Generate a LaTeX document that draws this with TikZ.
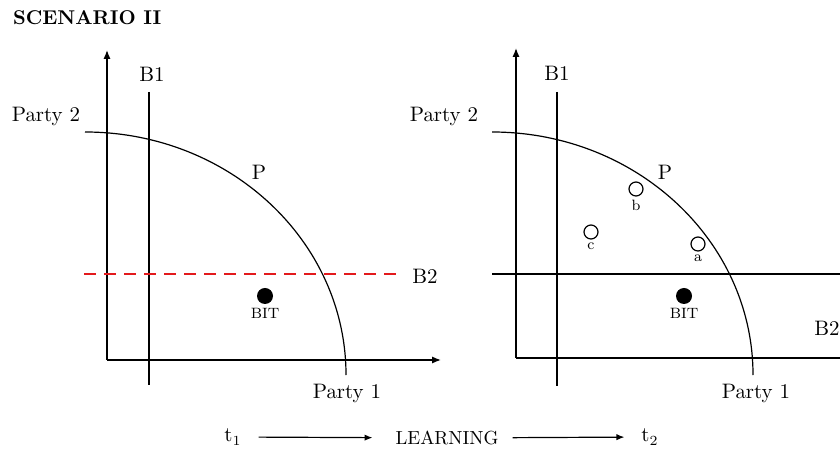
\documentclass[tikz,border=0pt]{standalone}
\usetikzlibrary{arrows.meta,positioning}
\definecolor{DashRed}{HTML}{E3191C}

\begin{document}
\begin{tikzpicture}[x=0.5bp,y=-0.5bp,
  font=\fontsize{10.5}{12}\selectfont,
  axis/.style={line width=0.7pt,-{Latex[length=4.5pt,width=3.6pt]}},
  line/.style={line width=0.7pt},
  front/.style={line width=0.6pt},
  cut/.style={line width=1.3pt,DashRed,dash pattern=on 6bp off 4bp},
  small/.style={font=\fontsize{7.5}{9}\selectfont,inner sep=1pt},
  bit/.style={circle,fill=black,minimum size=8bp,inner sep=0pt},
  alt/.style={circle,draw,line width=0.6pt,minimum size=7bp,inner sep=0pt},
  ar/.style={-{Latex[length=4pt,width=3.2pt]},line width=0.6pt}]
\useasboundingbox (0,0) rectangle (840,451);
\node[anchor=west,font=\fontsize{10}{12}\selectfont\bfseries] (title) at (6,18) {SCENARIO II};

% left panel: t1
\draw[axis] (107,360) -- (107,50);
\draw[axis] (107,360) -- (441,360);
\draw[line] (149,92) -- (149,385);
\node (b1l) at (152,74) {B1};
\draw[front] (85,132) arc[start angle=90,end angle=0,x radius=130.5bp,y radius=121.5bp];
\node (p2l) at (46,117) {Party 2};
\node (p1l) at (347,394) {Party 1};
\node (pl) at (259,172) {P};
\draw[cut] (84,274) -- (403,274);
\node (b2l) at (425,276) {B2};
\node[bit] (bitl) at (265,296) {};
\node[small,below=1pt of bitl] (bitll) {BIT};

% right panel: t2
\draw[axis] (516,358) -- (516,48);
\draw[line] (516,358) -- (840,358);
\draw[line] (557,92) -- (557,386);
\node (b1r) at (557,73) {B1};
\draw[front] (492,132) arc[start angle=90,end angle=0,x radius=130.5bp,y radius=121.5bp];
\node (p2r) at (444,117) {Party 2};
\node (p1r) at (756,394) {Party 1};
\node (pr) at (665,172) {P};
\draw[line] (492,274) -- (840,274);
\node[anchor=east,inner sep=0pt] (b2r) at (840,328) {B2};
\node[bit] (bitr) at (684,296) {};
\node[small,below=1pt of bitr] (bitrl) {BIT};
\foreach \n/\x/\y in {a/698/244,b/636/189,c/591/232}{%
  \node[alt] (\n) at (\x,\y) {};
  \node[small,below=0.5pt of \n] {\n};}

% learning step
\node (t1) at (233,437) {t$_1$};
\node (learn) at (447,438) {\fontsize{9.5}{11}\selectfont LEARNING};
\node (t2) at (650,437) {t$_2$};
\draw[ar,shorten <=5bp,shorten >=8bp] (t1) -- (learn);
\draw[ar,shorten <=3.5bp,shorten >=5bp] (learn) -- (t2);
\end{tikzpicture}
\end{document}
